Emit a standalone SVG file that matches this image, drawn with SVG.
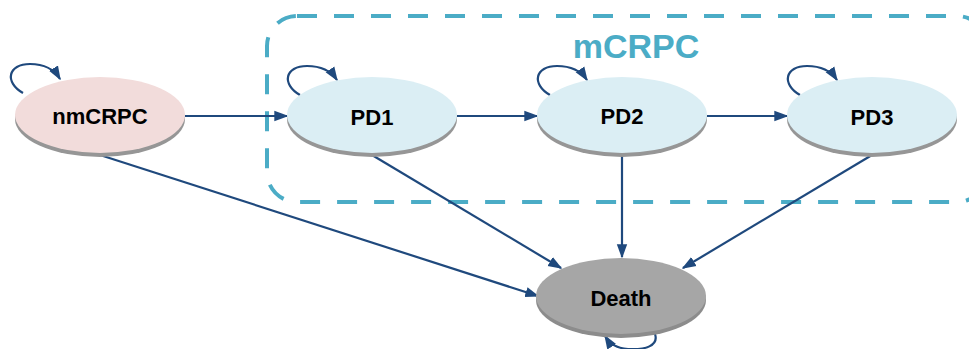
<svg xmlns="http://www.w3.org/2000/svg" width="969" height="349" viewBox="0 0 969 349">
<defs>
<marker id="ah" viewBox="0 0 10 10" refX="9" refY="5" markerWidth="6.4" markerHeight="6.4" orient="auto" markerUnits="strokeWidth">
<path d="M0,1.3 L10,5 L0,8.7 z" fill="#1f497d"/>
</marker>
</defs>
<style>
.lbl{font-family:"Liberation Sans",Arial,sans-serif;font-weight:bold;font-size:22px;fill:#000;text-anchor:middle}
.shadow{fill:#969696}
.pink{fill:#f2dcdb}
.blue{fill:#dbeef4}
.gray{fill:#a6a6a6}
.gshadow{fill:#8c8c8c}
.edge{stroke:#1f497d;stroke-width:2.2;fill:none;marker-end:url(#ah)}
</style>
<rect x="267" y="16" width="720" height="186" rx="30" ry="30" fill="none" stroke="#4bacc6" stroke-width="4" stroke-dasharray="20 17"/>
<text x="636" y="58" style="font-family:'Liberation Sans',Arial,sans-serif;font-weight:bold;font-size:34px;fill:#4bacc6;text-anchor:middle">mCRPC</text>
<g id="connectors">
<line class="edge" x1="185" y1="116" x2="287" y2="116"/>
<line class="edge" x1="457" y1="116" x2="537" y2="116"/>
<line class="edge" x1="707" y1="116" x2="787" y2="116"/>
<line class="edge" x1="100" y1="155" x2="538" y2="296"/>
<line class="edge" x1="372" y1="155" x2="561" y2="268"/>
<line class="edge" x1="622" y1="155" x2="622" y2="257"/>
<line class="edge" x1="872" y1="155" x2="683" y2="268"/>
<path class="edge" d="M23,93 C4,82 8,64 30,64 C44,64 54,69 60,79"/>
<path class="edge" d="M300,95 C281,84 285,66 307,66 C321,66 331,71 337,80"/>
<path class="edge" d="M550,95 C531,84 535,66 557,66 C571,66 581,71 587,80"/>
<path class="edge" d="M800,95 C781,84 785,66 807,66 C821,66 831,71 837,80"/>
<path class="edge" d="M655,334 C659,346 645,350 628,349 C616,348 610,344 605,336"/>
</g>
<g id="nmCRPC">
<ellipse class="shadow" cx="100" cy="119" rx="85" ry="38"/>
<ellipse class="pink" cx="100" cy="115" rx="85" ry="38"/>
<text class="lbl" x="100" y="124">nmCRPC</text>
</g>
<g id="PD1">
<ellipse class="shadow" cx="372" cy="119" rx="85" ry="38"/>
<ellipse class="blue" cx="372" cy="115" rx="85" ry="38"/>
<text class="lbl" x="372" y="125">PD1</text>
</g>
<g id="PD2">
<ellipse class="shadow" cx="622" cy="119" rx="85" ry="38"/>
<ellipse class="blue" cx="622" cy="115" rx="85" ry="38"/>
<text class="lbl" x="622" y="124">PD2</text>
</g>
<g id="PD3">
<ellipse class="shadow" cx="872" cy="119" rx="85" ry="38"/>
<ellipse class="blue" cx="872" cy="115" rx="85" ry="38"/>
<text class="lbl" x="872" y="125">PD3</text>
</g>
<g id="Death">
<ellipse class="gshadow" cx="621" cy="300" rx="85" ry="38"/>
<ellipse class="gray" cx="621" cy="296" rx="85" ry="38"/>
<text class="lbl" x="621" y="306">Death</text>
</g>
</svg>
